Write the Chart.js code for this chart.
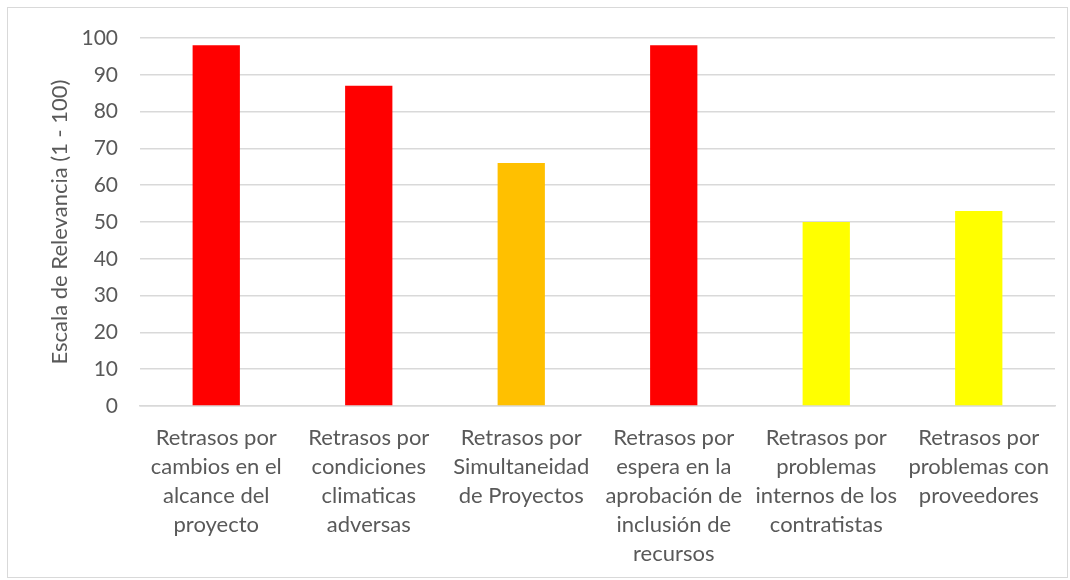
<!DOCTYPE html>
<html>
<head>
<meta charset="utf-8">
<script src="https://cdn.jsdelivr.net/npm/chart.js@4"></script>
<style>
  body { margin: 0; background: #fff; }
  #wrap { position: relative; width: 1070px; height: 580px; }
  #frame { position: absolute; left: 7px; top: 7px; width: 1059px; height: 569px; border: 1px solid #d9d9d9; pointer-events: none; }
</style>
</head>
<body>
<div id="wrap">
  <canvas id="chart" width="1070" height="580"></canvas>
  <div id="frame"></div>
</div>
<script>
// categories (multi-line, as wrapped in the original)
const categories = [
  ['Retrasos por', 'cambios en el', 'alcance del', 'proyecto'],
  ['Retrasos por', 'condiciones', 'climaticas', 'adversas'],
  ['Retrasos por', 'Simultaneidad', 'de Proyectos'],
  ['Retrasos por', 'espera en la', 'aprobación de', 'inclusión de', 'recursos'],
  ['Retrasos por', 'problemas', 'internos de los', 'contratistas'],
  ['Retrasos por', 'problemas con', 'proveedores']
];
const relevance = [98, 87, 66, 98, 50, 53];
const barColors = ['#FF0000', '#FF0000', '#FFC000', '#FF0000', '#FFFF00', '#FFFF00'];
const yTitle = 'Escala de Relevancia (1 - 100)';

const textColor = '#595959';
const family = 'Lato, "Noto Sans", sans-serif';

const ctx = document.getElementById('chart').getContext('2d');
new Chart(ctx, {
  type: 'bar',
  data: {
    labels: categories,
    datasets: [{
      data: relevance,
      backgroundColor: barColors,
      borderWidth: 0,
      categoryPercentage: 1,
      barPercentage: 0.31
    }]
  },
  options: {
    responsive: false,
    animation: false,
    layout: { padding: { left: 0, right: 15, top: 38, bottom: 0 } },
    plugins: {
      legend: { display: false },
      tooltip: { enabled: false }
    },
    scales: {
      x: {
        grid: { display: false, drawTicks: false },
        border: { color: '#d9d9d9', width: 1.5 },
        ticks: {
          color: textColor,
          font: { family: family, size: 22, lineHeight: 1.32 },
          maxRotation: 0,
          autoSkip: false,
          padding: 17
        },
        afterFit: scale => { scale.height = 174; }
      },
      y: {
        min: 0,
        max: 100,
        grid: { color: '#d9d9d9', lineWidth: 1.5, drawTicks: false },
        border: { display: false },
        ticks: {
          stepSize: 10,
          color: textColor,
          font: { family: family, size: 21 },
          padding: 22
        },
        title: {
          display: true,
          text: yTitle,
          color: textColor,
          font: { family: family, size: 22, lineHeight: 1.2 },
          padding: { top: 47, bottom: 0 }
        },
        afterFit: scale => { scale.width = 140; }
      }
    }
  }
});
</script>
</body>
</html>
